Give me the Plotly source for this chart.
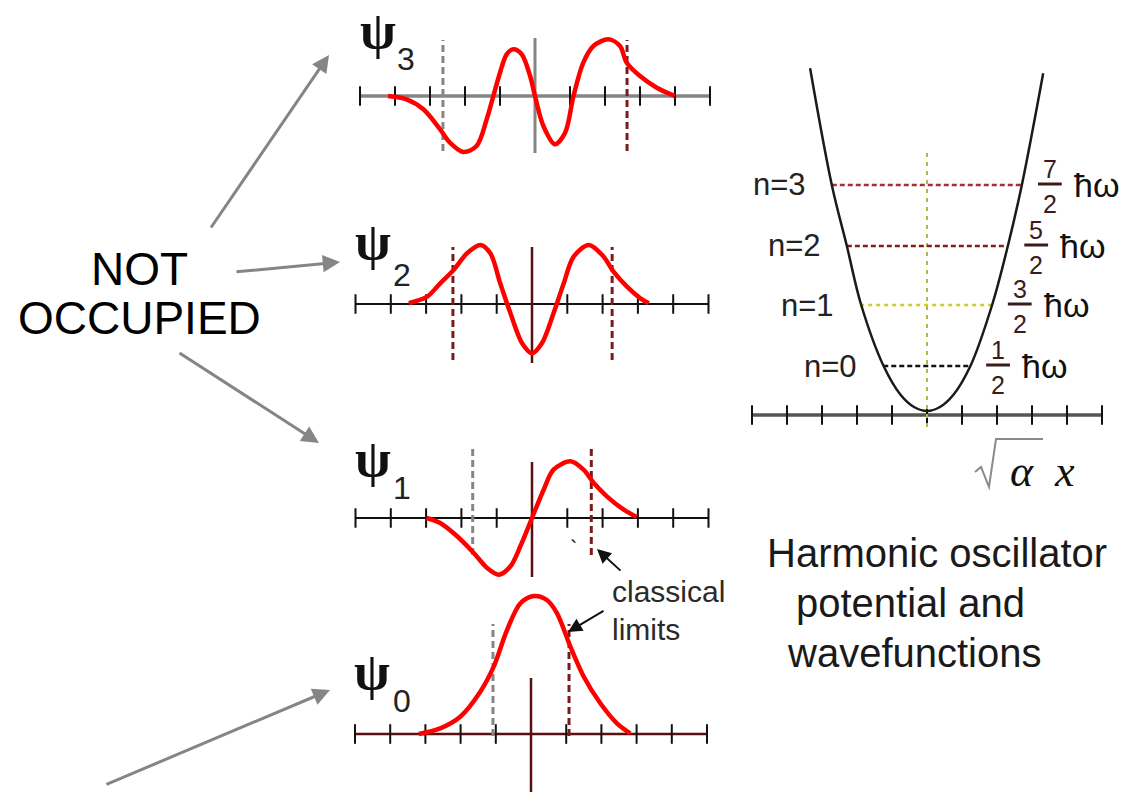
import plotly.graph_objects as go

W, H = 1125, 792

# ---------------- data ----------------
tick_x = [-5, -4, -3, -2, -1, 0, 1, 2, 3, 4, 5]

# wavefunction samples (x in axis units, y = height above axis in px units)
psi3_x = [-4.2, -3.67, -3.19, -2.71, -2.43, -2.05, -1.67, -1.38, -1.19, -1.0, -0.81, -0.62,
          -0.38, -0.14, 0.0, 0.24, 0.57, 0.86, 1.1, 1.38, 1.67, 2.1, 2.43, 2.62, 3.0, 3.48, 4.0]
psi3_y = [0, -3.3, -13.3, -33.3, -46.7, -56, -50, -23.3, 0, 23.3, 41.7, 46.7,
          41.7, 20, 0, -30, -48.3, -36.7, 0, 33.3, 50, 56.7, 50, 33.3, 20, 8.3, 0]

psi2_x = [-3.49, -2.97, -2.6, -2.22, -1.84, -1.46, -1.18, -0.9, -0.61, -0.28, 0.0,
          0.28, 0.61, 0.9, 1.18, 1.61, 2.03, 2.31, 2.69, 3.07, 3.31]
psi2_y = [0.7, 7.3, 20.7, 34, 50.7, 59, 50.7, 20.7, -9.3, -39.3, -49.3,
          -39.3, -9.3, 20.7, 47.3, 59, 47.3, 32.3, 17.3, 5.7, 0.7]

psi1_x = [-2.99, -2.6, -2.12, -1.65, -1.27, -0.94, -0.61, -0.33, 0.0,
          0.33, 0.61, 1.09, 1.46, 1.75, 2.12, 2.6, 2.97]
psi1_y = [0, -5, -18.3, -35, -50, -56.7, -48.3, -28.3, 0,
          28.3, 48.3, 56.7, 48.3, 35, 21.7, 8.3, 1]

psi0_x = [-3.19, -2.58, -2.01, -1.44, -1.06, -0.68, -0.3, 0.08, 0.45, 0.74, 1.12,
          1.5, 1.97, 2.44, 2.82]
psi0_y = [0, 5.7, 17.3, 42.3, 67.3, 104, 130.7, 138, 134, 120.7, 87.3,
          57.3, 30.7, 10.7, 0.7]

# classical turning points (left, right) for n = 3, 2, 1, 0
limits_left = [-2.63, -2.24, -1.68, -1.08]
limits_right = [2.63, 2.27, 1.68, 1.08]

# harmonic potential samples
pot_x = [-3.34, -2.72, -2.29, -1.88, -1.24, -0.75, -0.37, 0.0, 0.37, 0.75, 1.24,
         1.86, 2.31, 2.71, 3.32]
pot_y = [346.7, 230, 169, 110, 49, 20, 8, 4, 8, 20, 49,
         110, 169, 230, 341.7]

# energy levels
level_names = ["n=0", "n=1", "n=2", "n=3"]
level_num = ["1", "3", "5", "7"]
level_y = [49, 110, 169, 230]
level_left = [-1.25, -1.91, -2.29, -2.72]
level_right = [1.23, 1.85, 2.32, 2.71]

# ---------------- layout helpers ----------------
RED = "#ff0000"
GRAY = "#858585"
DRED = "#7a1a1a"
MAROON = "#5a1010"

panels = [
    dict(x=psi3_x, y=psi3_y, c=535, s=35.0, a=96, yr=(-66, 70), axis=GRAY, aw=3.5,
         cl=GRAY, cw=3, cy=(-57, 58), dl=GRAY, dr=DRED, dy=(-55, 56), k=0,
         sub="3", psi=(-4.5, 66), subp=(-3.69, 37)),
    dict(x=psi2_x, y=psi2_y, c=532, s=35.3, a=304, yr=(-70, 70), axis="#111", aw=2.2,
         cl=MAROON, cw=2.5, cy=(-59, 57), dl=DRED, dr=DRED, dy=(-56, 57), k=1,
         sub="2", psi=(-4.5, 62), subp=(-3.68, 29)),
    dict(x=psi1_x, y=psi1_y, c=532, s=35.3, a=518, yr=(-70, 70), axis="#111", aw=2.2,
         cl=MAROON, cw=2.5, cy=(-59, 56), dl=GRAY, dr=DRED, dy=(-37, 73), k=2,
         sub="1", psi=(-4.5, 60), subp=(-3.68, 30)),
    dict(x=psi0_x, y=psi0_y, c=531, s=35.2, a=734, yr=(-58, 150), axis=MAROON, aw=2.5,
         cl=MAROON, cw=2.5, cy=(-58, 56), dl=GRAY, dr=DRED, dy=(-2, 110), k=3,
         sub="0", psi=(-4.52, 63), subp=(-3.66, 33)),
]
pot_panel = dict(c=927, s=35.0, a=415, yr=(-20, 360))
XR = 5.6

fig = go.Figure()
layout_axes = {}
annotations = []
shapes = []


def axis_ids(idx):
    n = "" if idx == 1 else str(idx)
    return "x" + n, "y" + n, "xaxis" + n, "yaxis" + n


def set_domain(idx, c, s, a, yr):
    xid, yid, xk, yk = axis_ids(idx)
    x0 = max(0.0, (c - XR * s) / W)
    x1 = min(1.0, (c + XR * s) / W)
    y0 = max(0.0, 1 - (a - yr[0]) / H)
    y1 = min(1.0, 1 - (a - yr[1]) / H)
    layout_axes[xk] = dict(domain=[x0, x1], range=[-XR, XR], visible=False,
                           fixedrange=True, anchor=yid)
    layout_axes[yk] = dict(domain=[y0, y1], range=[yr[0], yr[1]], visible=False,
                           fixedrange=True, anchor=xid)
    return xid, yid


def line(xs, ys, xid, yid, color, width, dash="solid", shape="linear", smoothing=1.0):
    fig.add_trace(go.Scatter(x=xs, y=ys, mode="lines", xaxis=xid, yaxis=yid,
                             line=dict(color=color, width=width, dash=dash, shape=shape,
                                       smoothing=smoothing),
                             hoverinfo="skip", showlegend=False))


def ticks(xid, yid):
    fig.add_trace(go.Scatter(x=tick_x, y=[0] * len(tick_x), mode="markers",
                             xaxis=xid, yaxis=yid,
                             marker=dict(symbol="line-ns", size=14,
                                         line=dict(color="#111", width=2)),
                             hoverinfo="skip", showlegend=False))


for i, p in enumerate(panels):
    xid, yid = set_domain(i + 1, p["c"], p["s"], p["a"], p["yr"])
    line([tick_x[0], tick_x[-1]], [0, 0], xid, yid, p["axis"], p["aw"])
    ticks(xid, yid)
    line([0, 0], list(p["cy"]), xid, yid, p["cl"], p["cw"])
    k = p["k"]
    line([limits_left[k]] * 2, list(p["dy"]), xid, yid, p["dl"], 3, dash="7px,4px")
    line([limits_right[k]] * 2, list(p["dy"]), xid, yid, p["dr"], 3, dash="7px,4px")
    line(p["x"], p["y"], xid, yid, RED, 4.5, shape="spline", smoothing=0.9)
    annotations.append(dict(x=p["psi"][0], y=p["psi"][1], xref=xid, yref=yid, text="<b>ψ</b>",
                            showarrow=False, xanchor="center", yanchor="middle",
                            font=dict(family="Liberation Serif", size=52, color="#111")))
    annotations.append(dict(x=p["subp"][0], y=p["subp"][1], xref=xid, yref=yid, text=p["sub"],
                            showarrow=False, xanchor="center", yanchor="middle",
                            font=dict(family="Liberation Sans", size=32, color="#222")))

# potential panel
vx, vy = set_domain(5, pot_panel["c"], pot_panel["s"], pot_panel["a"], pot_panel["yr"])
line([tick_x[0], tick_x[-1]], [0, 0], vx, vy, "#555", 3.5)
ticks(vx, vy)
line([0, 0], [-12, 265], vx, vy, "#b5b54a", 2, dash="4px,5px")
level_styles = [("#111", "5px,3px"), ("#cccc30", "4px,4px"),
                ("#8b1a1a", "5px,3px"), ("#a83030", "5px,3px")]
for j in range(len(level_y)):
    col, dsh = level_styles[j]
    line([level_left[j], level_right[j]], [level_y[j]] * 2, vx, vy, col, 2.4, dash=dsh)
line(pot_x, pot_y, vx, vy, "#1a1a1a", 2.5, shape="spline", smoothing=1.0)

FR = "#3a1c1c"
for j in range(len(level_y)):
    yv = level_y[j]
    annotations.append(dict(x=level_left[j] - 0.68, y=yv, xref=vx, yref=vy,
                            text=level_names[j], showarrow=False, xanchor="right",
                            yanchor="middle",
                            font=dict(family="Liberation Sans", size=31, color="#222")))
    bx = level_right[j] + 0.8
    annotations.append(dict(x=bx, y=yv + 16, xref=vx, yref=vy, text=level_num[j],
                            showarrow=False, xanchor="center", yanchor="middle",
                            font=dict(family="Liberation Sans", size=25, color=FR)))
    annotations.append(dict(x=bx, y=yv - 19, xref=vx, yref=vy, text="2",
                            showarrow=False, xanchor="center", yanchor="middle",
                            font=dict(family="Liberation Sans", size=25, color=FR)))
    shapes.append(dict(type="line", xref=vx, yref=vy, x0=bx - 0.34, x1=bx + 0.34,
                       y0=yv + 1, y1=yv + 1, line=dict(color=FR, width=3)))
    annotations.append(dict(x=bx + 1.33, y=yv, xref=vx, yref=vy, text="ħω",
                            showarrow=False, xanchor="center", yanchor="middle",
                            font=dict(family="Liberation Sans", size=34, color="#111")))


def P(px, py):
    return px / W, 1 - py / H


def text(px, py, s, size, family="Liberation Sans", color="#111", xanchor="center"):
    x, y = P(px, py)
    annotations.append(dict(x=x, y=y, xref="paper", yref="paper", text=s, showarrow=False,
                            xanchor=xanchor, yanchor="middle",
                            font=dict(family=family, size=size, color=color)))


def arrow(head, tail, color, width, size, style=2):
    x, y = P(*head)
    annotations.append(dict(x=x, y=y, xref="paper", yref="paper", text="",
                            showarrow=True, ax=tail[0] - head[0], ay=tail[1] - head[1],
                            axref="pixel", ayref="pixel", arrowhead=style,
                            arrowsize=size, arrowwidth=width, arrowcolor=color,
                            standoff=0, startstandoff=0))


text(139, 269, "NOT", 46, color="#000")
text(139, 318, "OCCUPIED", 46, color="#000")

text(937, 553, "Harmonic oscillator", 40, color="#1a1a1a")
text(910, 603, "potential and", 40, color="#1a1a1a")
text(914, 653, "wavefunctions", 40, color="#1a1a1a")

text(610, 591, "classical", 30, color="#2a2a2a", xanchor="left")
text(610, 629, "limits", 30, color="#2a2a2a", xanchor="left")
text(573, 548, "`", 22, color="#111")

# sqrt(alpha) x axis label
text(1042, 472, "<i>α  x</i>", 44, family="Liberation Serif", color="#111")
rad = [(975, 472), (981, 467), (989, 487), (996, 439), (1043, 439)]
path = "M " + " L ".join("{:.5f},{:.5f}".format(*P(px, py)) for px, py in rad)
shapes.append(dict(type="path", xref="paper", yref="paper", path=path,
                   line=dict(color="#8a8a8a", width=2)))

arrow((329, 55), (210, 229), GRAY, 3, 1.15)
arrow((340, 262), (235, 272), GRAY, 3, 1.15)
arrow((319, 443), (178, 352), GRAY, 3, 1.15)
arrow((330, 690), (105, 785), GRAY, 3, 1.15)
arrow((597, 549), (622, 572), "#111", 2, 1.4)
arrow((568, 632), (605, 610), "#111", 2, 1.4)

fig.update_layout(
    width=W, height=H, autosize=False,
    margin=dict(l=0, r=0, t=0, b=0, pad=0),
    paper_bgcolor="white", plot_bgcolor="rgba(0,0,0,0)",
    showlegend=False,
    annotations=annotations, shapes=shapes,
    **layout_axes,
)

fig.write_html("out.html", config={"displayModeBar": False},
               post_script="document.body.style.margin='0';document.body.style.overflow='hidden';")
